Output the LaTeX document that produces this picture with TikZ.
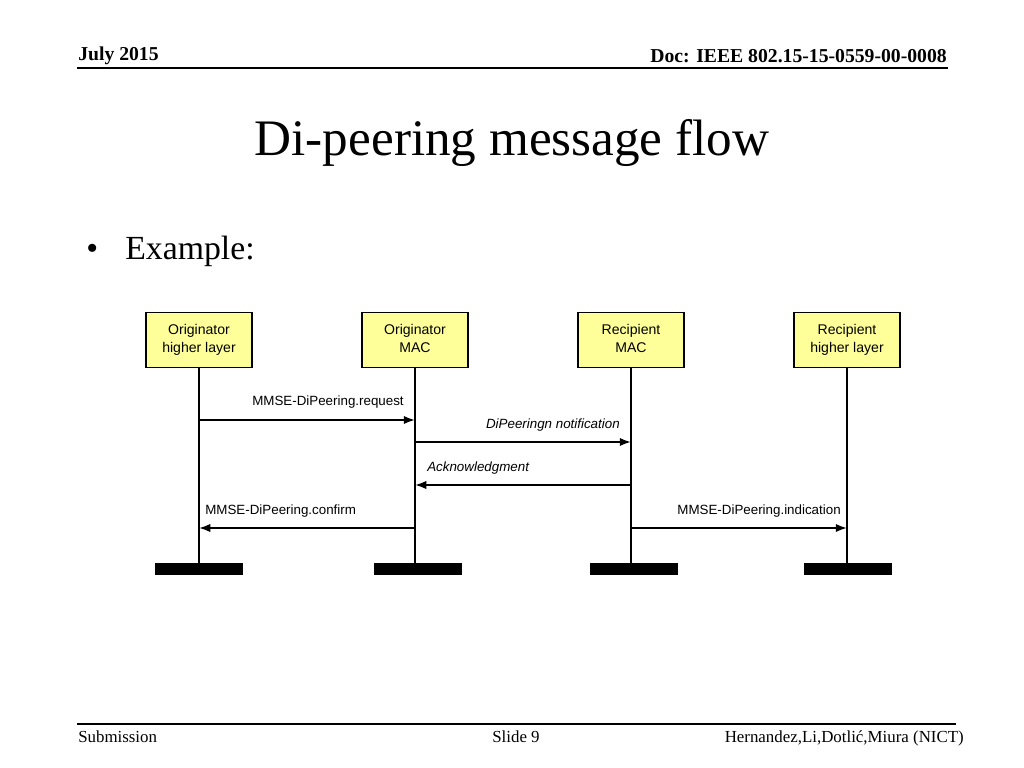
\documentclass[tikz,border=0pt]{standalone}
\usepackage{fontspec}
\setmainfont{Liberation Serif}
\newfontfamily\arialfont{Liberation Sans}
\usetikzlibrary{arrows.meta}
\definecolor{boxyellow}{RGB}{255,255,153}
\tikzset{
    entity/.style={rectangle,draw,line width=1.4pt,fill=boxyellow,minimum width=106\unitpx,minimum height=55\unitpx,align=center,font=\arialfont\fontsize{10}{12.5}\selectfont},
    bar/.style={rectangle,fill=black,minimum width=88\unitpx,minimum height=12\unitpx,inner sep=0pt},
    life/.style={-,line width=1.4pt,draw=black},
    msg/.style={-{Latex[length=8pt,width=6pt]},line width=1.4pt,draw=black},
    msglabel/.style={inner sep=0pt,font=\arialfont\fontsize{9.5}{11}\selectfont},
    rule/.style={line width=1.4pt},
}
\newcommand{\unitpx}{*0.025cm}
\begin{document}
\begin{tikzpicture}[x=0.025cm,y=-0.025cm]
\useasboundingbox (0,0) rectangle (1024,768);
% header and footer
\node[anchor=base west,inner sep=0pt,font=\fontsize{14}{16}\selectfont\bfseries] (date) at (78,61) {July 2015};
\node[anchor=base east,inner sep=0pt,font=\fontsize{14}{16}\selectfont\bfseries] (doc) at (947,63) {Doc: IEEE 802.15-15-0559-00-0008};
\draw[rule] (77,68) -- (948,68);
\node[anchor=base,inner sep=0pt,font=\fontsize{36.4}{42}\selectfont] (title) at (512,156) {Di-peering message flow};
\node[anchor=base west,inner sep=0pt,font=\fontsize{24}{28}\selectfont] (bullet) at (86,259) {\textbullet};
\node[anchor=base west,inner sep=0pt,font=\fontsize{24}{28}\selectfont] (example) at (125,259) {Example:};
\draw[rule] (77,724) -- (956,724);
\node[anchor=base west,inner sep=0pt,font=\fontsize{12}{14}\selectfont] (sub) at (78,742) {Submission};
\node[anchor=base,inner sep=0pt,font=\fontsize{12}{14}\selectfont] (slide) at (516,742) {Slide 9};
\node[anchor=base east,inner sep=0pt,font=\fontsize{12}{14}\selectfont] (authors) at (964,742) {Hernandez,Li,Dotlić,Miura (NICT)};
% entities
\node[entity] (ohl) at (199,340) {Originator\strut\\higher layer\strut};
\node[entity] (omac) at (415,340) {Originator\strut\\MAC\strut};
\node[entity] (rmac) at (631,340) {Recipient\strut\\MAC\strut};
\node[entity] (rhl) at (847,340) {Recipient\strut\\higher layer\strut};
\node[bar] (ohlend) at (199,569) {};
\node[bar] (omacend) at (418,569) {};
\node[bar] (rmacend) at (634,569) {};
\node[bar] (rhlend) at (848,569) {};
\draw[life] (ohl.south) -- (ohl.south |- ohlend.north);
\draw[life] (omac.south) -- (omac.south |- omacend.north);
\draw[life] (rmac.south) -- (rmac.south |- rmacend.north);
\draw[life] (rhl.south) -- (rhl.south |- rhlend.north);
% messages
\coordinate (req) at (199,420);
\coordinate (ntf) at (415,442);
\coordinate (ack) at (631,485);
\coordinate (cnf) at (415,528);
\coordinate (ind) at (631,528);
\draw[msg] (req) -- (req -| omac);
\draw[msg] (ntf) -- (ntf -| rmac);
\draw[msg] (ack) -- (ack -| omac);
\draw[msg] (cnf) -- (cnf -| ohl);
\draw[msg] (ind) -- (ind -| rhl);
\node[msglabel,anchor=base east] (reqlabel) at (404,405) {MMSE-DiPeering.request};
\node[msglabel,anchor=base east] (ntflabel) at (620,428) {\itshape DiPeeringn notification};
\node[msglabel,anchor=base west] (acklabel) at (427,471) {\itshape Acknowledgment};
\node[msglabel,anchor=base west] (cnflabel) at (205,514) {MMSE-DiPeering.confirm};
\node[msglabel,anchor=base east] (indlabel) at (841,514) {MMSE-DiPeering.indication};
\end{tikzpicture}
\end{document}
